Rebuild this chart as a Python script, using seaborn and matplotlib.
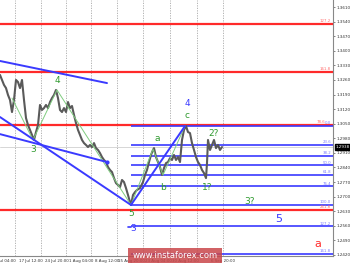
import matplotlib
matplotlib.use("Agg")
import matplotlib.pyplot as plt
import matplotlib.transforms as mtransforms
from matplotlib.patches import Rectangle
import seaborn as sns
import pandas as pd

# ---- data ----
bar_x = [0, 2, 4, 6, 8, 10, 12, 14, 16, 18, 20, 22, 24, 26, 28, 30, 32, 34, 36, 38,
         40, 42, 44, 46, 48, 50, 52, 54, 56, 58, 60, 62, 64, 66, 68, 70, 72, 74, 76, 78,
         80, 82, 84, 86, 88, 90, 92, 94, 96, 98, 100, 102, 104, 106, 108, 110, 112, 114, 116, 118,
         120, 122, 124, 126, 128, 130, 131, 133, 135, 137, 140, 143, 145, 147, 149, 151, 153, 154, 156, 158,
         160, 162, 164, 166, 168, 170, 172, 174, 176, 178, 180, 182, 184, 186, 188, 190, 192, 194, 196, 198,
         200, 202, 204, 206, 207, 208, 210, 212, 214, 216, 218, 220, 222]
close = [1.3284, 1.3260, 1.3236, 1.3221, 1.3188, 1.3164, 1.3106, 1.3164, 1.3260, 1.3250,
         1.3221, 1.3260, 1.3164, 1.3077, 1.3044, 1.3020, 1.2996, 1.2972, 1.3010, 1.3044,
         1.3140, 1.3116, 1.3125, 1.3140, 1.3125, 1.3154, 1.3173, 1.3188, 1.3212, 1.3173,
         1.3116, 1.3106, 1.3125, 1.3106, 1.3154, 1.3125, 1.3135, 1.3092, 1.3053, 1.3020,
         1.2996, 1.2972, 1.2957, 1.2948, 1.2938, 1.2948, 1.2938, 1.2957, 1.2933, 1.2924,
         1.2909, 1.2890, 1.2876, 1.2866, 1.2842, 1.2828, 1.2818, 1.2789, 1.2765, 1.2756,
         1.2746, 1.2780, 1.2770, 1.2741, 1.2708, 1.2674, 1.2660, 1.2708, 1.2722, 1.2732,
         1.2741, 1.2770, 1.2804, 1.2828, 1.2866, 1.2900, 1.2924, 1.2933, 1.2890, 1.2866,
         1.2842, 1.2804, 1.2837, 1.2861, 1.2866, 1.2885, 1.2876, 1.2900, 1.2876, 1.2890,
         1.2866, 1.2972, 1.3020, 1.3039, 1.3010, 1.3005, 1.2957, 1.2924, 1.2890, 1.2866,
         1.2852, 1.2828, 1.2813, 1.2789, 1.2861, 1.2972, 1.2924, 1.2948, 1.2972, 1.2933,
         1.2948, 1.2924, 1.2938]
current_price = 1.2938

red_levels = [1.3530, 1.3298, 1.3044, 1.2636]
red_labels = ["127.2", "161.8", "78.6", "261.8"]
red_label_x = [331, 331, 325, 331]

fib_start_x = 131
fib_levels = ["0.0", "23.6", "38.2", "50.0", "61.8", "76.4", "100.0", "127.2", "161.8"]
fib_prices = [1.3039, 1.2950, 1.2894, 1.2850, 1.2805, 1.2749, 1.2660, 1.2557, 1.2426]

blue_lines = [((0, 1.3351), (107, 1.3245)),
              ((0, 1.3082), (131, 1.2660)),
              ((0, 1.3000), (107, 1.2866)),
              ((131, 1.2660), (185, 1.3039))]

green_wave_x = [12, 33, 57, 131, 153, 163, 185]
green_wave_y = [1.3173, 1.2972, 1.3212, 1.2660, 1.2928, 1.2804, 1.3039]

wave_labels = [("4", 57, 1.3255, "green"), ("3", 33, 1.2924, "green"),
               ("5", 131, 1.2621, "green"), ("3", 133, 1.2549, "blue"),
               ("4", 187, 1.3145, "blue"), ("c", 187, 1.3090, "green"),
               ("a", 157, 1.2981, "green"), ("b", 163, 1.2746, "green"),
               ("2?", 214, 1.3005, "green"), ("1?", 207, 1.2746, "green"),
               ("3?", 250, 1.2679, "green"), ("5", 279, 1.2592, "blue"),
               ("a", 318, 1.2472, "red")]

y_ticks = [1.3610, 1.3540, 1.3470, 1.3400, 1.3330, 1.3260, 1.3190, 1.3120, 1.3050,
           1.2980, 1.2910, 1.2840, 1.2770, 1.2700, 1.2630, 1.2560, 1.2490, 1.2420]
grid_x = [15, 41, 66, 91, 117, 143, 170, 197, 223]
date_labels = ["10 Jul 04:00", "17 Jul 12:00", "24 Jul 20:00", "1 Aug 04:00",
               "8 Aug 12:00", "15 Aug 20:00", "23 Aug 04:00", "30 Aug 12:00", "6 Sep 20:00"]
date_label_x = [16, 43, 69, 93, 119, 145, 172, 199, 235]

# ---- styling ----
sns.set_style("white")
plt.rcParams['font.family'] = ['DejaVu Sans']
GREEN = "#2f9a2f"
LGREEN = "#7fcc7f"
BLUE = "#3a3aff"
RED = "#ff2a2a"
cols = {"green": GREEN, "blue": BLUE, "red": RED}

XMAX = 333
fig = plt.figure(figsize=(3.5, 2.65), dpi=100)
ax = fig.add_axes([0, 9 / 265, XMAX / 350, 256 / 265])
ax.set_xlim(0, XMAX)
ax.set_ylim(1.24152, 1.36436)

# vertical dotted grid
for gx in grid_x:
    ax.axvline(gx, color="#a8a8a8", lw=0.6, ls=(0, (1.5, 1.5)), zorder=0)

# current price line
ax.axhline(current_price, color="#d0d0d0", lw=0.6, zorder=0.5)

# red levels
for lv, lb, lx in zip(red_levels, red_labels, red_label_x):
    ax.hlines(lv, 0, XMAX, color=RED, lw=1.6, zorder=2)
    ax.text(lx, lv + 0.0004, lb, color="#ff6b6b", fontsize=2.8, ha="right", va="bottom", zorder=5)

# blue fibonacci levels
for lb, lv in zip(fib_levels, fib_prices):
    ax.hlines(lv, fib_start_x, XMAX, color=BLUE, lw=1.2, zorder=3)
    ax.text(331, lv + 0.0004, lb, color="#7a7aff", fontsize=2.8, ha="right", va="bottom", zorder=5)

# price
df = pd.DataFrame({"x": bar_x, "price": close})
sns.lineplot(data=df, x="x", y="price", ax=ax, color="#5a5a5a", lw=1.5, zorder=4)

# green wave lines
ax.plot(green_wave_x, green_wave_y, color=LGREEN, lw=0.7, zorder=4.5)

# blue trend lines
for (x0, y0), (x1, y1) in blue_lines:
    ax.plot([x0, x1], [y0, y1], color=BLUE, lw=1.4, zorder=5, solid_capstyle="round")
ax.plot([107], [1.2866], "o", color=BLUE, ms=2, zorder=5)
ax.plot([128, 131], [1.2553, 1.2553], color=BLUE, lw=1.2, zorder=5)

# wave labels
for txt, x, y, c in wave_labels:
    fs = 8 if (c == "red" or (c == "blue" and txt == "5")) else 6.5
    ax.text(x, y, txt, color=cols[c], fontsize=fs, ha="center", va="center",
            zorder=6, clip_on=False)

# axes styling
ax.set_xlabel("")
ax.set_ylabel("")
ax.yaxis.tick_right()
ax.set_yticks(y_ticks)
ax.set_yticklabels([f"{t:.4f}" for t in y_ticks], fontsize=3, color="#333333")
ax.tick_params(axis="y", right=True, left=False, length=1.5, width=0.5, pad=1, colors="#555555")
ax.tick_params(axis="y", labelcolor="#333333")
ax.set_xticks([])
for s in ["top", "left"]:
    ax.spines[s].set_visible(False)
for s in ["right", "bottom"]:
    ax.spines[s].set_color("#888888")
    ax.spines[s].set_linewidth(0.8)

# current price box
trans = mtransforms.blended_transform_factory(ax.transAxes, ax.transData)
ax.text(1.008, current_price, f"{current_price:.4f}", transform=trans, fontsize=3,
        color="white", ha="left", va="center", zorder=7,
        bbox=dict(boxstyle="square,pad=0.25", fc="black", ec="black"))

# date labels
tb = mtransforms.blended_transform_factory(ax.transData, ax.transAxes)
for lx, lb in zip(date_label_x, date_labels):
    ax.text(lx, -0.012, lb, transform=tb, fontsize=2.9, color="#333333",
            ha="right", va="top", clip_on=False, zorder=1)

# watermark
wm = Rectangle((128 / 350, 2 / 265), 94 / 350, 15 / 265, transform=fig.transFigure,
               facecolor="#c9474a", alpha=0.85, edgecolor="none", zorder=10)
fig.patches.append(wm)
fig.text(175 / 350, 9.5 / 265, "www.instaforex.com", color="white", fontsize=6,
         ha="center", va="center", zorder=11)

fig.savefig("out.png", dpi=100)
